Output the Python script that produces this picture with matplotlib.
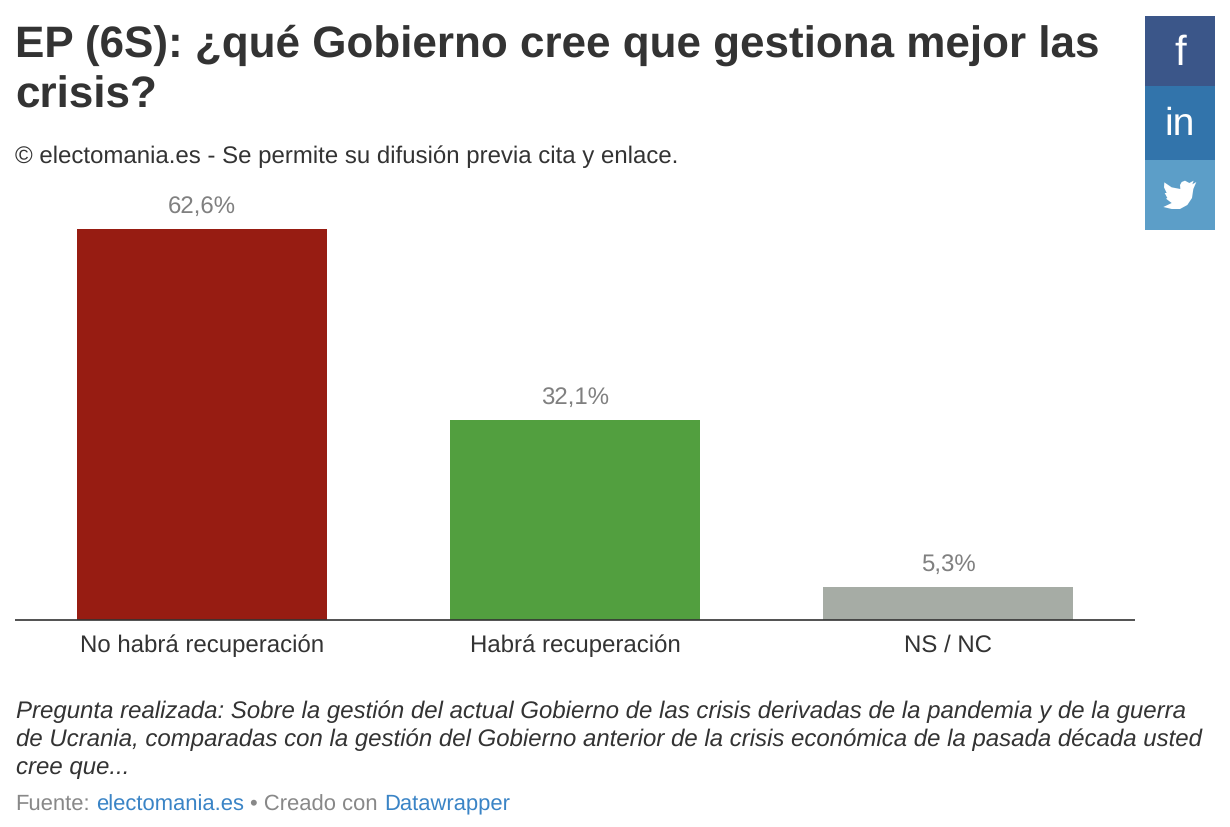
import matplotlib
matplotlib.use('Agg')
import matplotlib.pyplot as plt
from matplotlib.patches import Rectangle, Polygon

categories = ['No habrá recuperación', 'Habrá recuperación', 'NS / NC']
values = [62.6, 32.1, 5.3]
value_labels = ['62,6%', '32,1%', '5,3%']
bar_colors = ['#971c12', '#529f3f', '#a6aca5']

plt.rcParams['font.family'] = ['Liberation Sans', 'DejaVu Sans']
plt.rcParams['text.hinting'] = 'no_hinting'
plt.rcParams['text.hinting_factor'] = 1

W, H = 1230, 828
fig = plt.figure(figsize=(W / 100, H / 100), dpi=100)

# eje en pixeles: linea base en y=620, 62.6 llega a y=230
ax = fig.add_axes([15 / W, 1 - 621 / H, 1120 / W, 421 / H])
ax.bar(range(3), values, width=0.67, color=bar_colors)
ax.set_xlim(-0.5, 2.5)
ax.set_ylim(0, 62.6 * 421 / 391)
for s in ['top', 'left', 'right']:
    ax.spines[s].set_visible(False)
ax.spines['bottom'].set_color('#333333')
ax.spines['bottom'].set_linewidth(1.2)
ax.spines['bottom'].set_capstyle('butt')
ax.set_yticks([])
ax.set_xticks(range(3))
ax.set_xticklabels(categories, fontsize=17.3, color='#333333')
ax.tick_params(axis='x', length=0, pad=9.5)
for i, v in enumerate(values):
    ax.annotate(value_labels[i], (i, v), xytext=(0, 12), textcoords='offset pixels',
                ha='center', va='bottom', fontsize=17.3, color='#808080')


def txt(x, y, s, va='center', **kw):
    return fig.text(x / W, 1 - y / H, s, va=va, **kw)


txt(15, 45, 'EP (6S): ¿qué Gobierno cree que gestiona mejor las', fontsize=31.6, fontweight='bold', color='#333333')
txt(15, 96, 'crisis?', fontsize=31.6, fontweight='bold', color='#333333')
txt(15, 157, '© electomania.es - Se permite su difusión previa cita y enlace.', fontsize=17.3, color='#333333')

txt(16, 712, 'Pregunta realizada: Sobre la gestión del actual Gobierno de las crisis derivadas de la pandemia y de la guerra', fontsize=17.3, style='italic', color='#333333')
txt(16, 740, 'de Ucrania, comparadas con la gestión del Gobierno anterior de la crisis económica de la pasada década usted', fontsize=17.3, style='italic', color='#333333')
txt(16, 768, 'cree que...', fontsize=17.3, style='italic', color='#333333')

# cada trozo redondea distinto al pintarse, por eso las y no coinciden
txt(15, 810, 'Fuente:', va='baseline', fontsize=15.8, color='#888888')
txt(96, 811, 'electomania.es', va='baseline', fontsize=15.8, color='#3a84c6')
txt(250, 811, '• Creado con', va='baseline', fontsize=15.8, color='#888888')
txt(384, 809, 'Datawrapper', va='baseline', fontsize=15.8, color='#3a84c6')

# botones sociales
for y0, y1, c in [(17, 87, '#3b5689'), (87, 161, '#3274ab'), (161, 231, '#5c9ec8')]:
    fig.add_artist(Rectangle((1145 / W, 1 - y1 / H), 70 / W, (y1 - y0) / H, transform=fig.transFigure, color=c, lw=0))
txt(1180, 65, 'f', va='baseline', fontsize=30, color='white', ha='center')
txt(1180, 135, 'in', va='baseline', fontsize=28, color='white', ha='center')

# el pajaro no existe en ninguna fuente, se dibuja a mano
bird = [(199, 549), (187, 556), (191, 545), (178, 552), (165, 545), (155, 549), (150, 558), (151, 570),
        (125, 565), (103, 550), (102, 565), (110, 582), (104, 582), (112, 597), (108, 599), (125, 612),
        (100, 624), (125, 630), (150, 630), (172, 618), (186, 597), (190, 570)]
pts = [((1130 + x / 3) / W, 1 - (y / 3) / H) for x, y in bird]
fig.add_artist(Polygon(pts, closed=True, transform=fig.transFigure, color='white', lw=0))

fig.savefig('out.png', dpi=100)
